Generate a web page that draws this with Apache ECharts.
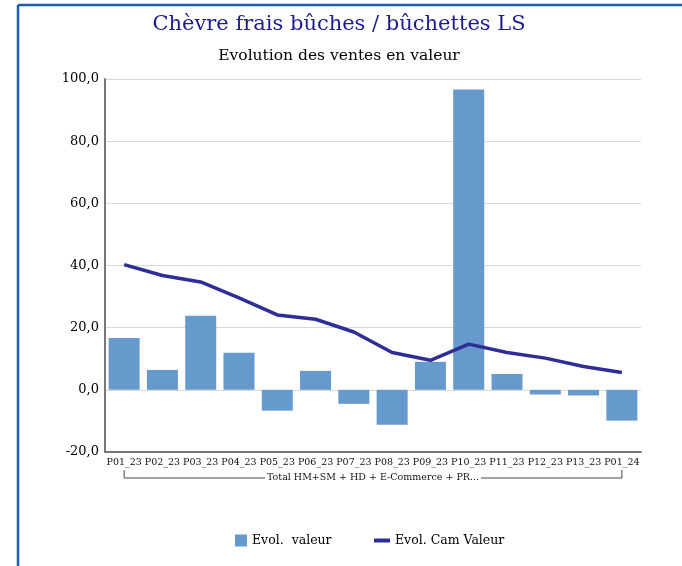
<!DOCTYPE html>
<html><head><meta charset="utf-8">
<script src="https://cdn.jsdelivr.net/npm/echarts@6/dist/echarts.min.js"></script>
<style>html,body{margin:0;padding:0;background:#fff}#c{width:682px;height:566px}</style>
</head><body><div id="c"></div>
<script>
const categories = ["P01_23","P02_23","P03_23","P04_23","P05_23","P06_23","P07_23","P08_23","P09_23","P10_23","P11_23","P12_23","P13_23","P01_24"];
const evolValeur = [16.7, 6.4, 23.8, 11.9, -6.7, 6.1, -4.5, -11.2, 9.0, 96.6, 5.1, -1.5, -1.8, -9.9];
const evolCamValeur = [40.3, 36.8, 34.7, 29.6, 24.1, 22.7, 18.6, 12.0, 9.5, 14.7, 12.0, 10.2, 7.5, 5.6];
const groupLabel = "Total HM+SM + HD + E-Commerce + PR...";
const yTicks = {min: -20, max: 100, interval: 20};

const FONT = "DejaVu Serif";
const chart = echarts.init(document.getElementById('c'));
chart.setOption({
  backgroundColor: '#fff',
  animation: false,
  title: [
    {text: 'Chèvre frais bûches / bûchettes LS', left: 334, top: 9, textAlign: 'center',
     textStyle: {fontFamily: FONT, fontSize: 21, fontWeight: 'normal', color: '#1c1c8e'}},
    {text: 'Evolution des ventes en valeur', left: 334, top: 43, textAlign: 'center',
     textStyle: {fontFamily: FONT, fontSize: 15.5, fontWeight: 'normal', color: '#000'}}
  ],
  grid: {left: 105, right: 41, top: 79, bottom: 114},
  legend: [
    {data: [{name: 'Evol.  valeur', icon: 'rect'}], left: 235, top: 534, padding: 0, itemWidth: 12, itemHeight: 12, itemGap: 6,
     textStyle: {fontFamily: FONT, fontSize: 12.5, color: '#000'}},
    {data: [{name: 'Evol. Cam Valeur', icon: 'rect'}], left: 374, top: 534, padding: 0, itemWidth: 16, itemHeight: 4,
     textStyle: {fontFamily: FONT, fontSize: 12.5, color: '#000'}}
  ],
  xAxis: {
    type: 'category', data: categories,
    axisLine: {onZero: false, lineStyle: {color: '#777', width: 2}},
    axisTick: {show: false},
    axisLabel: {interval: 0, fontFamily: FONT, fontSize: 9.5, color: '#111', margin: 6}
  },
  yAxis: {
    type: 'value', min: yTicks.min, max: yTicks.max, interval: yTicks.interval,
    axisLine: {show: true, lineStyle: {color: '#777', width: 2}},
    axisTick: {show: false},
    axisLabel: {fontFamily: FONT, fontSize: 13, color: '#000', margin: 6,
      formatter: v => v.toFixed(1).replace('.', ',')},
    splitLine: {lineStyle: {color: '#d9d9d9', width: 1}}
  },
  series: [
    {name: 'Evol.  valeur', type: 'bar', data: evolValeur, barCategoryGap: '19%',
     itemStyle: {color: '#6699cc'}},
    {name: 'Evol. Cam Valeur', type: 'line', data: evolCamValeur, symbol: 'none',
     lineStyle: {color: '#2e2e96', width: 3.5}, itemStyle: {color: '#2e2e96'}}
  ]
});

function drawDecor() {
  const x0 = chart.convertToPixel({xAxisIndex: 0}, categories[0]);
  const x1 = chart.convertToPixel({xAxisIndex: 0}, categories[categories.length - 1]);
  const yBr = 478, yTop = 470;
  const col = '#444';
  const mid = (x0 + x1) / 2;
  const halfText = 108;
  chart.setOption({graphic: [
    {type: 'line', shape: {x1: 18, y1: 5, x2: 682, y2: 5}, style: {stroke: '#1f5fb0', lineWidth: 2.5}},
    {type: 'line', shape: {x1: 18, y1: 5, x2: 18, y2: 566}, style: {stroke: '#1f5fb0', lineWidth: 2.5}},
    {type: 'polyline', shape: {points: [[x0, yTop], [x0, yBr], [mid - halfText, yBr]]}, style: {stroke: col, lineWidth: 1, fill: null}},
    {type: 'polyline', shape: {points: [[mid + halfText, yBr], [x1, yBr], [x1, yTop]]}, style: {stroke: col, lineWidth: 1, fill: null}},
    {type: 'text', x: mid, y: yBr, style: {text: groupLabel, fontFamily: FONT, fontSize: 9.5, fill: '#111', align: 'center', verticalAlign: 'middle'}}
  ]});
}
drawDecor();
</script></body></html>
